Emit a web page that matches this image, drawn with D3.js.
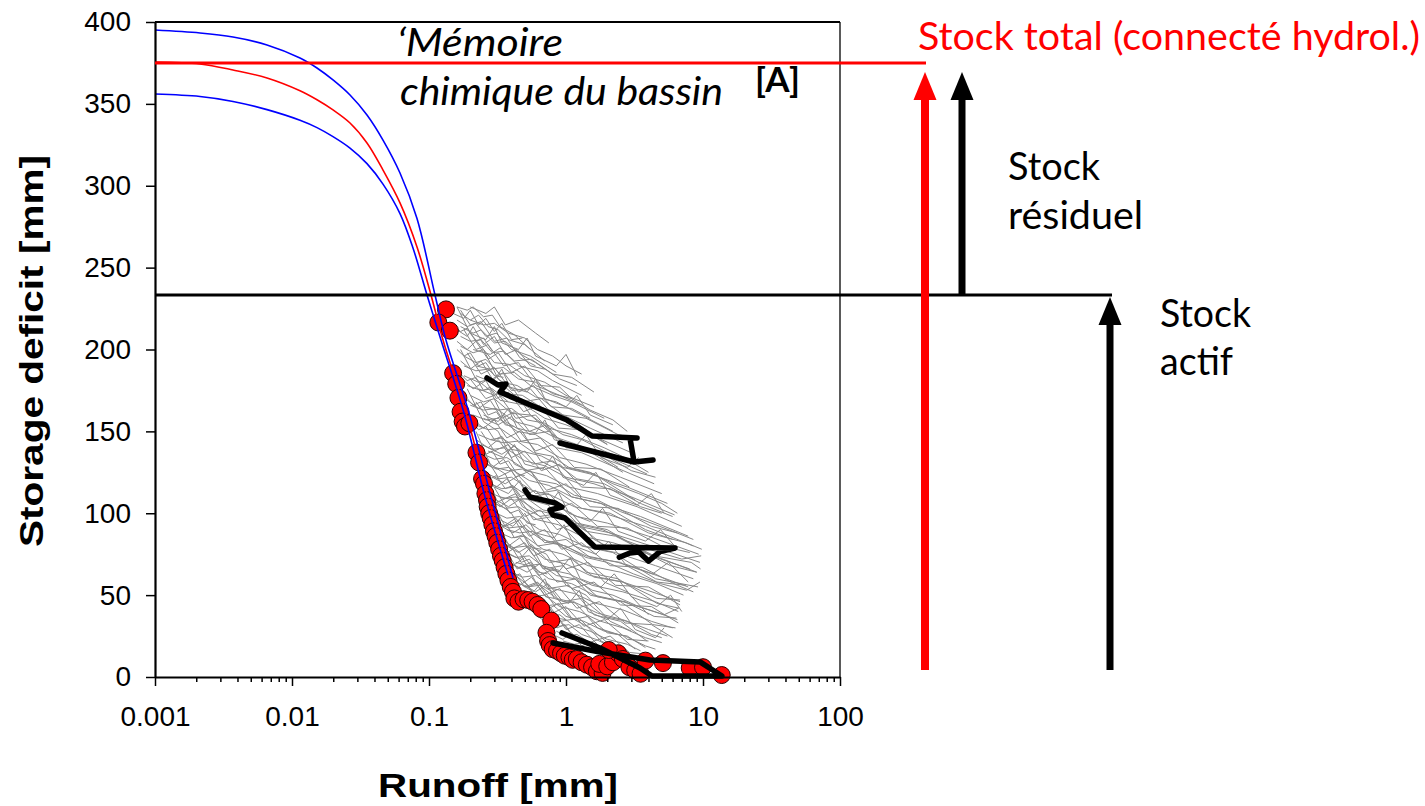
<!DOCTYPE html>
<html>
<head>
<meta charset="utf-8">
<script src="https://cdn.jsdelivr.net/npm/d3@7"></script>
<style>
  body { margin: 0; background: #fff; }
  svg { display: block; }
</style>
</head>
<body>
<svg id="chart" width="1425" height="806"></svg>
<script>
// ---- data ----
var xMajor = [0.001, 0.01, 0.1, 1, 10, 100];
var yMajor = [0, 50, 100, 150, 200, 250, 300, 350, 400];

var stockTotal = 375;      // red horizontal level
var stockActif = 233.3;    // black horizontal level

// fitted storage-runoff relation (centre + envelope)
var fitCentre = [[0.001,375.6],[0.00213,374.4],[0.00371,370.7],[0.00657,365.8],[0.01144,358],[0.01522,352.5],
  [0.01992,346.3],[0.02651,338.3],[0.03527,326.1],[0.04615,309.6],[0.06141,289.5],[0.08174,262.6],
  [0.1034,233.3],[0.1265,205.8],[0.1863,161.2],[0.270,110],[0.390,61.7]];
var fitUpper = [[0.001,395.1],[0.00213,393.3],[0.00371,390.8],[0.00657,386.0],[0.01144,378],[0.01522,371.9],
  [0.01992,364.6],[0.02651,355.4],[0.03527,343.2],[0.04615,327.9],[0.06141,307.8],[0.08174,280],
  [0.1106,233.3],[0.133,205.8],[0.196,161.2],[0.2835,110],[0.4104,60.5]];
var fitLower = [[0.001,356.0],[0.00213,354.5],[0.00371,351.5],[0.00657,346.5],[0.01144,340],[0.01522,335.5],
  [0.01992,330],[0.02651,323],[0.03527,313.5],[0.04615,301],[0.06141,283],[0.0764,262],
  [0.0967,233.3],[0.1223,205.8],[0.180,161.2],[0.2563,110],[0.3772,62.3]];

// observed minimum-deficit points
var observed = [[0.133,224.5],[0.117,216.5],[0.142,211.5],
  [0.150,185.5],[0.158,179],[0.164,170.5],[0.170,162],[0.176,156],[0.183,153],[0.197,155],
  [0.222,137],[0.232,131],[0.244,121],[0.252,118],[0.258,112],[0.265,108],[0.268,104],[0.275,100],
  [0.282,97],[0.29,93],[0.298,89],[0.306,86],[0.315,82],[0.325,78],[0.335,74],[0.345,71],[0.356,67],
  [0.367,63],[0.38,59],[0.395,55],[0.41,52],[0.42,48],[0.45,46],[0.49,47.5],[0.53,47],[0.57,46],
  [0.62,44],[0.66,41.5],[0.78,34.5],[0.72,27],[0.74,22],[0.76,19.5],[0.8,17],[0.86,16],[0.92,14.5],
  [0.98,13],[1.06,12],[1.12,10.5],[1.2,11],[1.3,9],[1.42,7.5],[1.55,6],[1.68,3.5],[1.85,2.5],
  [1.75,8],[2.0,6.5],[2.2,9],[2.4,14.5],[2.05,16.5],[2.6,11],[2.9,6],[3.2,4],[3.5,2],[3.8,10],
  [5.1,8.5],[8.0,5.5],[10.0,6],[13.7,1.2]];

// individual recession events (grey)
var recessions = [
  [[0.16,226],[0.19,224],[0.21,226],[0.25,220],[0.29,221],[0.33,214],[0.42,209],[0.55,200]],
  [[0.17,222],[0.2,218],[0.23,221],[0.27,214],[0.32,212],[0.38,206],[0.5,203],[0.7,193]],
  [[0.16,218],[0.19,214],[0.22,216],[0.26,208],[0.31,210],[0.4,200],[0.55,196],[0.85,186]],
  [[0.17,214],[0.21,210],[0.24,212],[0.3,204],[0.36,205],[0.47,197],[0.6,192],[0.9,182],[1.2,178]],
  [[0.17,208],[0.2,205],[0.24,206],[0.29,198],[0.35,199],[0.45,190],[0.62,187],[0.8,181],[1.3,172]],
  [[0.17,202],[0.21,198],[0.25,200],[0.3,192],[0.38,191],[0.5,184],[0.7,180],[1.0,172],[1.6,165]],
  [[0.18,196],[0.22,192],[0.26,194],[0.33,185],[0.42,186],[0.55,178],[0.8,172],[1.1,168],[1.9,158]],
  [[0.18,190],[0.22,187],[0.27,188],[0.34,180],[0.44,178],[0.6,171],[0.85,168],[1.3,160],[2.2,150]],
  [[0.18,184],[0.23,180],[0.28,182],[0.36,173],[0.48,172],[0.65,165],[0.95,160],[1.5,152],[2.6,143]],
  [[0.19,178],[0.24,175],[0.29,176],[0.38,168],[0.5,166],[0.7,158],[1.0,154],[1.7,146],[3.0,137]],
  [[0.2,172],[0.25,168],[0.3,170],[0.4,161],[0.55,160],[0.75,152],[1.1,148],[1.9,140],[3.4,130]],
  [[0.2,166],[0.25,163],[0.31,164],[0.42,156],[0.58,153],[0.8,147],[1.2,142],[2.1,134],[3.9,124]],
  [[0.21,160],[0.26,157],[0.32,158],[0.44,150],[0.6,148],[0.85,140],[1.3,137],[2.3,128],[4.4,118]],
  [[0.22,154],[0.27,151],[0.33,152],[0.45,144],[0.62,142],[0.9,134],[1.4,130],[2.5,122],[5.0,112]],
  [[0.23,148],[0.28,145],[0.34,146],[0.47,138],[0.66,135],[0.95,128],[1.5,124],[2.8,116],[5.5,106]],
  [[0.24,142],[0.29,139],[0.36,140],[0.5,132],[0.7,129],[1.0,122],[1.6,118],[3.0,110],[6.2,99]],
  [[0.25,136],[0.3,133],[0.37,134],[0.52,126],[0.72,123],[1.05,116],[1.7,112],[3.3,104],[7.0,92]],
  [[0.26,130],[0.31,127],[0.38,128],[0.54,120],[0.75,117],[1.1,110],[1.8,106],[3.5,98],[7.8,86]],
  [[0.27,124],[0.32,121],[0.4,122],[0.56,114],[0.78,111],[1.15,104],[1.9,100],[3.8,92],[8.5,80]],
  [[0.28,118],[0.34,115],[0.42,116],[0.58,108],[0.82,105],[1.2,98],[2.0,94],[4.0,86],[9.3,75]],
  [[0.29,112],[0.35,109],[0.43,110],[0.6,102],[0.85,99],[1.25,92],[2.1,88],[4.2,80],[9.5,70]],
  [[0.3,106],[0.36,103],[0.45,104],[0.62,96],[0.88,93],[1.3,86],[2.2,82],[4.4,74],[9.0,64]],
  [[0.31,100],[0.37,97],[0.46,98],[0.64,90],[0.9,87],[1.35,80],[2.3,76],[4.5,68],[8.5,60]],
  [[0.32,94],[0.38,91],[0.48,92],[0.66,84],[0.92,81],[1.4,74],[2.4,70],[4.6,62],[7.8,55]],
  [[0.33,88],[0.4,85],[0.5,86],[0.68,78],[0.95,75],[1.45,68],[2.5,64],[4.6,57],[7.2,50]],
  [[0.34,82],[0.41,79],[0.52,80],[0.7,72],[1.0,69],[1.5,62],[2.6,58],[4.6,51],[6.8,46]],
  [[0.36,76],[0.43,73],[0.54,74],[0.72,66],[1.05,63],[1.55,56],[2.6,52],[4.5,46],[6.6,40]],
  [[0.38,70],[0.45,67],[0.56,68],[0.75,60],[1.1,57],[1.6,50],[2.6,46],[4.4,40],[6.5,35]],
  [[0.4,64],[0.48,61],[0.6,62],[0.8,54],[1.15,51],[1.65,45],[2.6,41],[4.2,34],[6.0,30]],
  [[0.43,58],[0.52,55],[0.64,56],[0.85,48],[1.2,45],[1.7,39],[2.6,35],[4.0,29],[5.5,25]],
  [[0.47,52],[0.56,49],[0.7,50],[0.9,43],[1.25,40],[1.8,34],[2.6,30],[3.8,24],[5.0,21]],
  [[0.55,46],[0.65,43],[0.8,44],[1.0,37],[1.35,34],[1.9,28],[2.7,25],[3.8,19],[4.5,17]],
  [[0.62,40],[0.75,37],[0.9,38],[1.15,31],[1.5,28],[2.0,23],[2.8,20],[3.5,16]],
  [[0.75,34],[0.9,31],[1.05,32],[1.3,26],[1.65,23],[2.2,18],[2.8,15]],
  [[0.85,28],[1.0,25],[1.2,26],[1.5,21],[1.9,18],[2.4,14]],
  [[0.95,22],[1.15,20],[1.4,21],[1.7,16],[2.1,14]],
  [[0.17,224],[0.2,215],[0.24,217],[0.3,205],[0.37,207],[0.46,195],[0.6,190]],
  [[0.18,212],[0.22,200],[0.27,203],[0.35,190],[0.45,192],[0.6,178],[0.9,172],[1.3,166]],
  [[0.19,198],[0.24,185],[0.3,189],[0.4,175],[0.55,176],[0.8,160],[1.2,155],[2.0,142]],
  [[0.2,182],[0.26,170],[0.32,173],[0.43,158],[0.6,160],[0.9,143],[1.4,139],[2.6,125]],
  [[0.22,168],[0.28,156],[0.35,160],[0.47,144],[0.65,146],[1.0,128],[1.6,124],[3.2,108]],
  [[0.24,150],[0.3,138],[0.38,142],[0.5,126],[0.7,128],[1.1,110],[1.8,106],[3.8,90],[6.0,84]],
  [[0.26,134],[0.32,122],[0.4,126],[0.54,110],[0.75,112],[1.2,94],[2.0,90],[4.2,74],[8.0,66]],
  [[0.28,120],[0.34,108],[0.43,112],[0.58,96],[0.8,98],[1.3,80],[2.2,76],[4.5,60],[9.2,55]],
  [[0.3,104],[0.36,92],[0.46,96],[0.62,80],[0.88,82],[1.4,64],[2.4,60],[4.6,45],[6.7,42]],
  [[0.33,90],[0.4,78],[0.5,82],[0.68,66],[0.95,68],[1.5,50],[2.5,46],[4.3,32],[6.3,30]],
  [[0.36,78],[0.44,66],[0.55,70],[0.74,54],[1.05,56],[1.6,38],[2.5,34],[3.9,22]],
  [[0.4,66],[0.5,55],[0.62,58],[0.82,44],[1.15,46],[1.7,30],[2.4,26],[3.2,17]],
  [[0.46,54],[0.57,44],[0.7,47],[0.92,34],[1.25,36],[1.8,22],[2.3,18]],
  [[0.2,226],[0.26,222],[0.3,226],[0.36,215],[0.45,218],[0.6,210],[0.75,204]],
  [[0.21,200],[0.28,197],[0.33,201],[0.42,193],[0.56,194],[0.8,185],[1.1,183],[1.6,174]],
  [[0.23,176],[0.3,172],[0.36,177],[0.48,168],[0.66,170],[0.95,160],[1.4,158],[2.4,148],[3.2,146]],
  [[0.25,158],[0.32,154],[0.4,159],[0.54,148],[0.75,150],[1.1,140],[1.7,138],[3.0,126],[4.5,122]],
  [[0.27,140],[0.34,136],[0.42,141],[0.57,130],[0.8,132],[1.2,121],[1.9,118],[3.5,106],[6.0,98]],
  [[0.29,122],[0.36,118],[0.45,123],[0.6,112],[0.85,114],[1.3,103],[2.1,100],[4.0,88],[7.5,82],[9.8,78]],
  [[0.31,108],[0.38,104],[0.47,109],[0.64,98],[0.9,100],[1.4,89],[2.3,86],[4.4,74],[8.2,70],[9.6,66]],
  [[0.34,92],[0.41,88],[0.51,93],[0.7,82],[1.0,84],[1.5,73],[2.5,70],[4.6,58],[7.5,56]],
  [[0.37,80],[0.45,76],[0.56,81],[0.76,70],[1.1,72],[1.6,61],[2.6,58],[4.6,48],[6.8,47]],
  [[0.42,68],[0.52,64],[0.64,69],[0.86,58],[1.2,60],[1.7,49],[2.7,46],[4.4,37],[6.4,36]],
  [[0.5,56],[0.6,52],[0.74,57],[0.95,46],[1.3,48],[1.9,37],[2.8,34],[4.2,26],[5.0,24]],
  [[0.6,44],[0.72,41],[0.88,45],[1.1,35],[1.45,37],[2.0,27],[2.8,25],[3.8,18]],
  [[0.15,222],[0.18,219],[0.2,224],[0.23,215],[0.26,219],[0.3,211],[0.34,216],[0.4,206],[0.48,207]],
  [[0.16,212],[0.19,208],[0.21,214],[0.25,203],[0.3,208],[0.36,197],[0.44,200],[0.55,190],[0.7,188]],
  [[0.16,205],[0.19,200],[0.22,205],[0.27,194],[0.32,198],[0.4,186],[0.5,190],[0.66,178],[0.9,177],[1.1,170]],
  [[0.17,193],[0.2,188],[0.24,193],[0.29,182],[0.35,186],[0.45,174],[0.58,178],[0.78,165],[1.1,164],[1.5,158]],
  [[0.18,181],[0.21,176],[0.26,181],[0.31,170],[0.38,174],[0.49,162],[0.64,166],[0.88,152],[1.3,151],[2.0,142]],
  [[0.19,169],[0.23,164],[0.28,169],[0.34,158],[0.42,162],[0.54,150],[0.72,154],[1.0,140],[1.5,139],[2.4,128]],
  [[0.21,157],[0.25,152],[0.3,157],[0.37,146],[0.46,150],[0.6,138],[0.8,142],[1.15,128],[1.8,127],[2.9,116]],
  [[0.22,145],[0.27,140],[0.32,145],[0.4,134],[0.5,138],[0.66,126],[0.9,130],[1.3,116],[2.1,115],[3.5,104],[5.0,100]],
  [[0.24,133],[0.29,128],[0.35,133],[0.43,122],[0.55,126],[0.72,114],[1.0,118],[1.5,104],[2.4,103],[4.2,92],[6.5,88]],
  [[0.26,121],[0.31,116],[0.37,121],[0.46,110],[0.6,114],[0.8,102],[1.1,106],[1.7,92],[2.8,91],[5.0,80],[8.0,76]],
  [[0.28,109],[0.33,104],[0.4,109],[0.5,98],[0.65,102],[0.86,90],[1.2,94],[1.9,80],[3.2,79],[5.8,68],[9.0,64]],
  [[0.3,97],[0.35,92],[0.43,97],[0.54,86],[0.7,90],[0.93,78],[1.3,82],[2.1,68],[3.6,67],[6.5,56],[8.5,52]],
  [[0.32,85],[0.38,80],[0.46,85],[0.58,74],[0.76,78],[1.0,66],[1.45,70],[2.3,56],[4.0,55],[6.8,44]],
  [[0.35,73],[0.41,68],[0.5,73],[0.63,62],[0.82,66],[1.1,54],[1.6,58],[2.5,44],[4.2,43],[6.6,33]],
  [[0.39,61],[0.46,56],[0.56,61],[0.7,50],[0.9,54],[1.2,42],[1.75,46],[2.7,33],[4.2,32],[6.0,24]],
  [[0.45,50],[0.53,45],[0.64,50],[0.8,39],[1.0,43],[1.35,31],[1.9,35],[2.8,23],[4.0,22]],
  [[0.6,38],[0.7,34],[0.84,38],[1.0,29],[1.25,32],[1.6,22],[2.1,25],[2.9,15],[3.8,14]],
  [[0.8,26],[0.95,23],[1.1,27],[1.3,19],[1.6,22],[2.0,14],[2.6,15],[3.2,10]],
  [[0.2,218],[0.25,215],[0.3,216],[0.38,210],[0.5,207],[0.62,200],[0.8,196],[1.0,190],[1.3,185]],
  [[0.22,190],[0.28,188],[0.35,189],[0.45,182],[0.6,180],[0.8,173],[1.1,170],[1.5,163],[2.2,157],[2.8,150]],
  [[0.25,165],[0.32,163],[0.4,164],[0.52,157],[0.7,155],[0.95,148],[1.3,145],[1.9,138],[2.9,132],[4.0,125]],
  [[0.28,145],[0.35,143],[0.44,144],[0.58,137],[0.78,135],[1.05,128],[1.5,125],[2.2,118],[3.4,112],[5.0,106],[6.5,100]],
  [[0.3,128],[0.38,126],[0.48,127],[0.63,120],[0.85,118],[1.15,111],[1.7,108],[2.5,101],[3.9,95],[6.0,89],[8.5,84]],
  [[0.33,110],[0.42,108],[0.52,109],[0.68,102],[0.92,100],[1.25,93],[1.85,90],[2.8,83],[4.4,77],[7.0,72],[9.7,74]],
  [[0.37,90],[0.46,88],[0.57,89],[0.75,82],[1.0,80],[1.4,73],[2.0,70],[3.1,63],[4.9,57],[7.6,53],[9.5,58]],
  [[0.43,70],[0.53,68],[0.65,69],[0.85,62],[1.15,60],[1.55,53],[2.2,50],[3.4,43],[5.2,38],[6.6,42]],
  [[0.16,226],[0.2,210],[0.25,200],[0.32,182],[0.42,175],[0.55,160],[0.75,150]],
  [[0.17,200],[0.22,182],[0.28,175],[0.36,156],[0.48,150],[0.65,132],[0.9,126],[1.3,110]],
  [[0.19,176],[0.25,156],[0.32,150],[0.42,130],[0.56,125],[0.78,106],[1.1,100],[1.6,84],[2.2,78]],
  [[0.22,150],[0.28,130],[0.36,124],[0.48,104],[0.65,98],[0.9,80],[1.3,74],[1.9,58],[2.8,52],[4.0,38]],
  [[0.25,126],[0.32,106],[0.4,100],[0.54,80],[0.72,75],[1.0,56],[1.4,50],[2.1,34],[3.0,28]],
  [[0.3,100],[0.37,82],[0.46,76],[0.6,58],[0.8,52],[1.1,36],[1.5,30],[2.2,18]],
  [[0.35,78],[0.43,62],[0.53,56],[0.68,40],[0.9,35],[1.2,22],[1.6,18]],
  [[0.15,215],[0.17,211],[0.19,213],[0.22,205],[0.25,207],[0.29,199]],
  [[0.16,200],[0.18,196],[0.2,198],[0.23,190],[0.26,192],[0.3,184],[0.35,183]],
  [[0.17,185],[0.19,181],[0.22,183],[0.25,175],[0.28,177],[0.33,169],[0.38,168]],
  [[0.19,170],[0.21,166],[0.24,168],[0.27,160],[0.31,162],[0.36,154],[0.42,153]],
  [[0.21,155],[0.23,151],[0.26,153],[0.3,145],[0.34,147],[0.4,139],[0.46,138]],
  [[0.23,140],[0.26,136],[0.29,138],[0.33,130],[0.38,132],[0.44,124],[0.5,123]],
  [[0.25,125],[0.28,121],[0.31,123],[0.36,115],[0.41,117],[0.48,109],[0.55,108]],
  [[0.27,110],[0.3,106],[0.34,108],[0.39,100],[0.45,102],[0.52,94],[0.6,93]],
  [[0.3,95],[0.33,91],[0.37,93],[0.42,85],[0.49,87],[0.57,79],[0.66,78]],
  [[0.33,80],[0.37,76],[0.41,78],[0.47,70],[0.54,72],[0.63,64],[0.73,63]],
  [[0.37,65],[0.41,61],[0.46,63],[0.53,55],[0.61,57],[0.71,49],[0.82,48]],
  [[0.45,52],[0.5,48],[0.56,50],[0.64,42],[0.73,44],[0.85,36],[1.0,35]],
  [[0.6,40],[0.68,36],[0.76,38],[0.86,30],[0.98,32],[1.15,24],[1.35,23]],
  [[0.2,210],[0.26,206],[0.3,214],[0.34,204],[0.45,200],[0.52,207],[0.6,196],[0.85,190],[1.0,197],[1.2,184]],
  [[0.22,184],[0.29,180],[0.34,188],[0.39,177],[0.52,174],[0.6,182],[0.7,170],[1.0,165],[1.2,172],[1.5,160],[2.2,154]],
  [[0.25,160],[0.32,156],[0.38,164],[0.44,152],[0.6,149],[0.7,157],[0.82,145],[1.15,140],[1.4,148],[1.8,134],[2.8,128],[3.4,134]],
  [[0.27,138],[0.35,134],[0.42,142],[0.5,130],[0.68,127],[0.8,135],[0.95,122],[1.35,117],[1.65,125],[2.1,111],[3.3,105],[4.2,112],[5.2,100]],
  [[0.3,116],[0.38,112],[0.46,120],[0.55,108],[0.75,105],[0.88,113],[1.05,100],[1.5,95],[1.85,103],[2.4,89],[3.8,83],[4.9,90],[6.5,78]],
  [[0.33,96],[0.41,92],[0.5,100],[0.6,88],[0.82,85],[0.97,93],[1.15,80],[1.65,75],[2.05,83],[2.7,69],[4.3,63],[5.6,70],[7.8,58]],
  [[0.37,76],[0.46,72],[0.56,80],[0.67,68],[0.9,65],[1.07,73],[1.27,60],[1.8,55],[2.25,63],[3.0,49],[4.6,43],[5.8,50],[7.0,40]],
  [[0.48,56],[0.58,52],[0.7,60],[0.82,48],[1.05,45],[1.25,53],[1.45,40],[2.0,35],[2.5,42],[3.2,29],[4.5,24],[5.2,30]]
];

// highlighted events (thick black)
var highlighted = [
  [[0.265,182.6],[0.319,178.3],[0.365,178.9],[0.33,174],[0.574,165.5],[1.017,156.9],[1.548,147.2],
   [3.3,146],[2.93,146],[3.14,131.3],[4.32,132.5],[3.14,131.3],[0.904,142.9]],
  [[0.502,114.2],[0.546,109.9],[0.831,106.3],[0.935,103.8],[0.764,102],[0.804,98.9],[0.983,97.1],
   [1.628,79.4],[6.25,78.8],[4.86,76.6],[4.0,70.8],[3.4,76.3],[2.93,75.7],[2.45,73.1]],
  [[0.935,26.9],[1.771,17.7],[3.469,5.5],[4.243,0.6],[13.76,0.6],[9.51,9.2],[4.104,10.4],
   [1.771,15.3],[0.804,20.8]]
];

// ---- layout ----
var svg = d3.select('#chart');
var plot = { left: 155, right: 840, top: 22, bottom: 677 };

var x = d3.scaleLog().domain([0.001, 100]).range([plot.left, plot.right]);
var y = d3.scaleLinear().domain([0, 400]).range([plot.bottom, plot.top]);

var line = d3.line()
  .x(function(d) { return x(d[0]); })
  .y(function(d) { return y(d[1]); });

var smooth = d3.line()
  .x(function(d) { return x(d[0]); })
  .y(function(d) { return y(d[1]); })
  .curve(d3.curveCatmullRom.alpha(0.5));

// grey recessions
svg.append('g')
  .selectAll('path')
  .data(recessions)
  .join('path')
  .attr('d', line)
  .attr('fill', 'none')
  .attr('stroke', '#878787')
  .attr('stroke-width', 1);

// observed points
svg.append('g')
  .selectAll('circle')
  .data(observed)
  .join('circle')
  .attr('cx', function(d) { return x(d[0]); })
  .attr('cy', function(d) { return y(d[1]); })
  .attr('r', 8.5)
  .attr('fill', '#ff0000')
  .attr('stroke', '#2a0000')
  .attr('stroke-width', 1);

// fitted curves
svg.append('path').datum(fitCentre)
  .attr('d', smooth).attr('fill', 'none')
  .attr('stroke', '#ff0000').attr('stroke-width', 1.6);
[fitUpper, fitLower].forEach(function(c) {
  svg.append('path').datum(c)
    .attr('d', smooth).attr('fill', 'none')
    .attr('stroke', '#0000ff').attr('stroke-width', 1.6);
});

// highlighted events
svg.append('g')
  .selectAll('path')
  .data(highlighted)
  .join('path')
  .attr('d', line)
  .attr('fill', 'none')
  .attr('stroke', '#000')
  .attr('stroke-width', 5.5)
  .attr('stroke-linejoin', 'round')
  .attr('stroke-linecap', 'round');

// axes
var xAxis = svg.append('g')
  .attr('transform', 'translate(0,' + plot.bottom + ')')
  .call(d3.axisBottom(x)
    .tickValues(xMajor)
    .tickSize(9)
    .tickSizeOuter(0)
    .tickPadding(20)
    .tickFormat(function(d) { return String(d); }));

var minor = [];
xMajor.slice(0, -1).forEach(function(d) {
  for (var k = 2; k <= 9; k++) minor.push(d * k);
});
svg.append('g')
  .attr('class', 'minor')
  .attr('transform', 'translate(0,' + plot.bottom + ')')
  .call(d3.axisBottom(x).tickValues(minor).tickSize(5).tickFormat(''))
  .select('.domain').remove();

var yAxis = svg.append('g')
  .attr('transform', 'translate(' + plot.left + ',0)')
  .call(d3.axisLeft(y)
    .tickValues(yMajor)
    .tickSize(9)
    .tickSizeOuter(0)
    .tickPadding(15));

svg.selectAll('.tick line').attr('stroke', '#000').attr('stroke-width', 1.5);
xAxis.select('.domain').attr('stroke-width', 2.2);
yAxis.select('.domain').attr('stroke-width', 2.2);
svg.selectAll('.tick text')
  .attr('fill', '#000')
  .attr('font-family', '"Liberation Sans", Arial, sans-serif')
  .attr('font-size', 28);
xAxis.attr('font-size', 28).attr('font-family', '"Liberation Sans", Arial, sans-serif');
yAxis.attr('font-size', 28).attr('font-family', '"Liberation Sans", Arial, sans-serif');

// frame top / right
svg.append('line')
  .attr('x1', plot.left).attr('x2', plot.right)
  .attr('y1', plot.top).attr('y2', plot.top)
  .attr('stroke', '#000').attr('stroke-width', 2);
svg.append('line')
  .attr('x1', plot.right).attr('x2', plot.right)
  .attr('y1', plot.top).attr('y2', plot.bottom)
  .attr('stroke', '#000').attr('stroke-width', 1.3);

// axis titles
svg.append('text')
  .attr('transform', 'translate(43,351) rotate(-90)')
  .attr('text-anchor', 'middle')
  .attr('textLength', 392)
  .attr('lengthAdjust', 'spacingAndGlyphs')
  .style('font-family', '"Liberation Sans Narrow", "Liberation Sans", Arial, sans-serif')
  .style('font-weight', 'bold')
  .style('font-size', '34px')
  .text('Storage deficit [mm]');

svg.append('text')
  .attr('x', 498).attr('y', 797)
  .attr('text-anchor', 'middle')
  .attr('textLength', 240)
  .attr('lengthAdjust', 'spacingAndGlyphs')
  .style('font-family', '"Liberation Sans Narrow", "Liberation Sans", Arial, sans-serif')
  .style('font-weight', 'bold')
  .style('font-size', '34px')
  .text('Runoff [mm]');

// ---- annotations ----
var redArrowX = 925, resArrowX = 962, actArrowX = 1110;
var arrowBase = y(0) - 7;

svg.append('line')
  .attr('x1', plot.left).attr('x2', redArrowX + 1)
  .attr('y1', y(stockTotal)).attr('y2', y(stockTotal))
  .attr('stroke', '#ff0000').attr('stroke-width', 3);
svg.append('line')
  .attr('x1', plot.left).attr('x2', actArrowX + 2)
  .attr('y1', y(stockActif)).attr('y2', y(stockActif))
  .attr('stroke', '#000').attr('stroke-width', 3);

function arrow(xPos, yFrom, yTip, colour, width) {
  svg.append('line')
    .attr('x1', xPos).attr('x2', xPos)
    .attr('y1', yFrom).attr('y2', yTip + 20)
    .attr('stroke', colour).attr('stroke-width', width);
  svg.append('path')
    .attr('d', 'M' + (xPos - 11.5) + ',' + (yTip + 28) + 'L' + xPos + ',' + yTip +
      'L' + (xPos + 11.5) + ',' + (yTip + 28) + 'Z')
    .attr('fill', colour);
}
arrow(redArrowX, arrowBase, y(stockTotal) + 9, '#ff0000', 8);
arrow(resArrowX, y(stockActif), y(stockTotal) + 9, '#000', 7);
arrow(actArrowX, arrowBase, y(stockActif) + 2, '#000', 7);

function label(txt, xPos, yPos, len, opts) {
  opts = opts || {};
  svg.append('text')
    .attr('x', xPos).attr('y', yPos)
    .attr('textLength', len)
    .attr('lengthAdjust', 'spacingAndGlyphs')
    .attr('fill', opts.colour || '#000')
    .style('font-family', 'Lato, "Open Sans", sans-serif')
    .style('font-size', (opts.size || 39) + 'px')
    .style('font-style', opts.italic ? 'italic' : 'normal')
    .style('font-weight', opts.bold ? 'bold' : 'normal')
    .text(txt);
}
label('Stock total (connecté hydrol.)', 918, 50, 502, { colour: '#ff0000' });
label('Stock', 1008, 180, 92);
label('résiduel', 1008, 229, 135);
label('Stock', 1160, 327, 91);
label('actif', 1160, 375, 73);
label('\u2018Mémoire', 397, 56, 166, { italic: true });
label('chimique du bassin', 400, 105, 323, { italic: true });
label('[A]', 755, 92, 45, { bold: true, size: 34 });
</script>
</body>
</html>
